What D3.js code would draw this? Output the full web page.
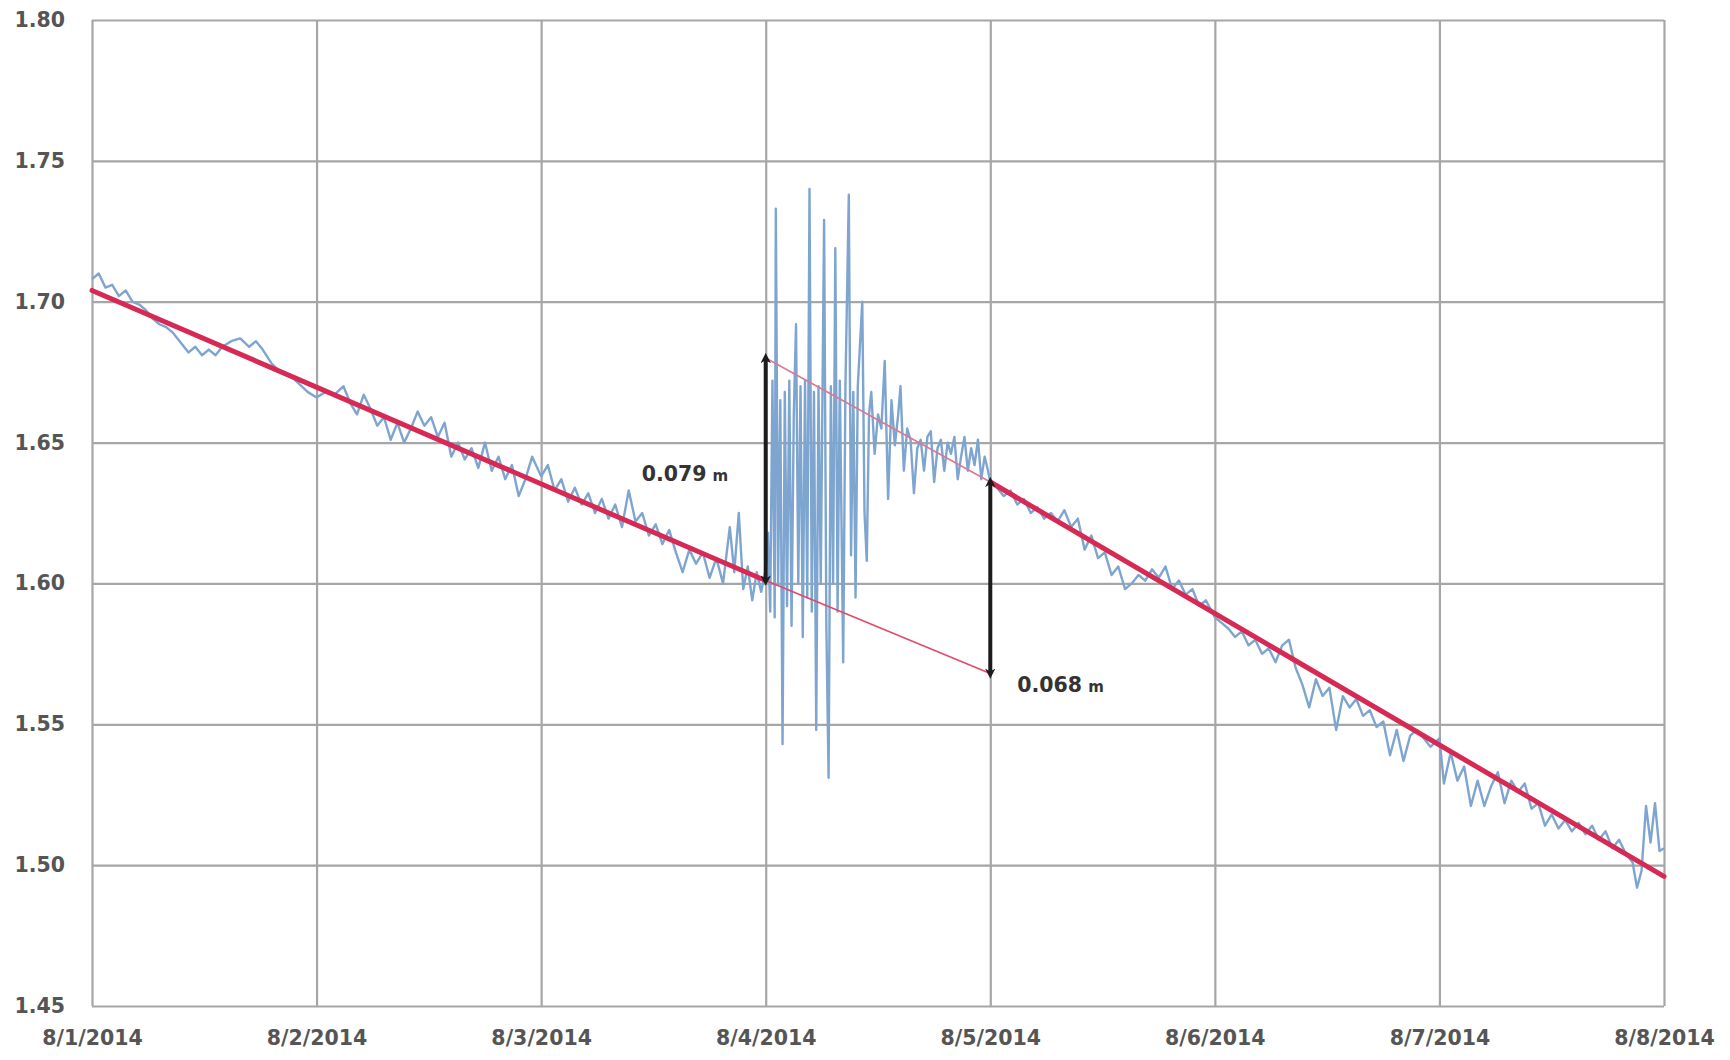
<!DOCTYPE html>
<html>
<head>
<meta charset="utf-8">
<script src="https://cdn.jsdelivr.net/npm/d3@7"></script>
<style>
  html, body { margin: 0; padding: 0; background: #fff; }
  svg { display: block; }
  text { font-family: "DejaVu Sans", Verdana, sans-serif; }
</style>
</head>
<body>
<svg id="chart" width="1730" height="1060"></svg>
<script>
// ---------- data ----------
const xTickLabels = ["8/1/2014","8/2/2014","8/3/2014","8/4/2014","8/5/2014","8/6/2014","8/7/2014","8/8/2014"];
const yTicks = [1.45, 1.50, 1.55, 1.60, 1.65, 1.70, 1.75, 1.80];

// observed water level: days since 8/1/2014 00:00, level (m)
const obsDays = [
  0.00,0.03,0.06,0.09,0.12,0.15,0.18,0.21,0.24,0.27,0.30,0.33,0.36,0.40,0.43,0.46,0.49,0.52,0.55,0.58,
  0.62,0.66,0.70,0.73,0.76,0.80,0.84,0.88,0.92,0.96,1.00,
  1.04,1.08,1.12,1.15,1.18,1.21,1.24,1.27,1.30,1.33,1.36,1.39,1.42,1.45,1.48,1.51,1.54,1.57,1.60,1.63,
  1.66,1.69,1.72,1.75,1.78,1.81,1.84,1.87,1.90,1.93,1.96,2.00,
  2.03,2.06,2.09,2.12,2.15,2.18,2.21,2.24,2.27,2.30,2.33,2.36,2.39,2.42,2.45,2.48,2.51,2.54,2.57,2.60,
  2.63,2.66,2.69,2.72,2.75,2.78,2.81,2.84,2.86,2.88,2.90,2.92,2.94,2.96,2.98,3.00,
  3.01,3.02,3.03,3.04,3.045,3.055,3.065,3.075,3.085,3.095,3.105,3.115,3.125,3.135,3.145,3.155,3.165,
  3.175,3.185,3.195,3.205,3.215,3.225,3.235,3.245,3.26,3.27,3.28,3.29,3.30,3.31,3.32,3.33,3.345,3.355,
  3.37,3.38,3.39,3.40,3.41,3.43,3.44,3.45,3.46,3.47,3.485,3.50,3.515,3.53,3.545,3.56,3.575,3.59,3.60,
  3.615,3.63,3.645,3.66,3.675,3.69,3.705,3.72,3.735,3.75,3.765,3.78,3.795,3.81,3.825,3.84,3.855,3.87,
  3.885,3.90,3.915,3.93,3.945,3.96,3.975,3.99,4.00,
  4.03,4.06,4.09,4.12,4.15,4.18,4.21,4.24,4.27,4.30,4.33,4.36,4.39,4.42,4.45,4.48,4.51,4.54,4.57,4.60,
  4.63,4.66,4.69,4.72,4.75,4.78,4.81,4.84,4.87,4.90,4.93,4.96,5.00,
  5.03,5.06,5.09,5.12,5.15,5.18,5.21,5.24,5.27,5.30,5.33,5.36,5.39,5.42,5.45,5.48,5.51,5.54,5.57,5.60,
  5.63,5.66,5.69,5.72,5.75,5.78,5.81,5.84,5.87,5.90,5.93,5.96,6.00,
  6.02,6.05,6.08,6.11,6.14,6.17,6.20,6.23,6.26,6.29,6.32,6.35,6.38,6.41,6.44,6.47,6.50,6.53,6.56,6.59,
  6.62,6.65,6.68,6.71,6.74,6.77,6.80,6.83,6.86,6.88,6.90,6.92,6.94,6.96,6.98,7.00
];
const obsLevels = [
  1.708,1.710,1.705,1.706,1.702,1.704,1.700,1.699,1.697,1.694,1.692,1.691,1.689,1.685,1.682,1.684,1.681,1.683,1.681,1.684,
  1.686,1.687,1.684,1.686,1.683,1.678,1.675,1.674,1.671,1.668,1.666,
  1.668,1.667,1.670,1.664,1.660,1.667,1.662,1.656,1.659,1.651,1.657,1.650,1.655,1.661,1.656,1.659,1.652,1.657,1.645,1.650,
  1.644,1.648,1.641,1.650,1.640,1.645,1.637,1.642,1.631,1.637,1.645,1.638,
  1.642,1.633,1.637,1.629,1.634,1.628,1.632,1.625,1.630,1.623,1.628,1.620,1.633,1.622,1.625,1.617,1.621,1.614,1.619,1.611,
  1.604,1.612,1.607,1.611,1.602,1.609,1.600,1.620,1.604,1.625,1.598,1.606,1.594,1.604,1.597,1.605,
  1.618,1.590,1.672,1.588,1.733,1.600,1.665,1.543,1.668,1.592,1.672,1.585,1.660,1.692,1.600,1.670,1.581,
  1.672,1.595,1.740,1.590,1.668,1.548,1.670,1.600,1.729,1.585,1.531,1.670,1.600,1.719,1.590,1.672,1.572,1.670,
  1.738,1.610,1.668,1.595,1.670,1.700,1.625,1.608,1.660,1.668,1.646,1.660,1.655,1.679,1.630,1.665,1.649,1.660,1.670,
  1.640,1.655,1.651,1.632,1.648,1.651,1.640,1.652,1.654,1.636,1.648,1.651,1.640,1.650,1.646,1.652,1.637,1.645,
  1.652,1.640,1.648,1.642,1.651,1.637,1.645,1.640,1.636,
  1.634,1.631,1.633,1.628,1.630,1.625,1.627,1.623,1.625,1.622,1.626,1.620,1.623,1.612,1.617,1.609,1.611,1.603,1.606,1.598,
  1.600,1.603,1.601,1.605,1.602,1.606,1.598,1.601,1.596,1.598,1.592,1.594,1.588,
  1.586,1.584,1.581,1.583,1.578,1.580,1.575,1.577,1.572,1.578,1.580,1.570,1.564,1.556,1.566,1.560,1.563,1.548,1.560,1.556,
  1.559,1.553,1.555,1.549,1.551,1.539,1.548,1.537,1.546,1.548,1.545,1.542,1.545,
  1.529,1.540,1.530,1.535,1.521,1.530,1.521,1.528,1.533,1.522,1.530,1.526,1.529,1.520,1.522,1.514,1.518,1.513,1.516,1.512,
  1.515,1.511,1.514,1.509,1.512,1.506,1.509,1.504,1.501,1.492,1.498,1.521,1.508,1.522,1.505,1.506
];

// fitted trend segments (days, level)
const trendBeforeDays = [0, 3];
const trendBeforeLevels = [1.704, 1.601];
const trendBeforeExtDays = [3, 4];
const trendBeforeExtLevels = [1.601, 1.568];
const trendAfterBackDays = [3, 4];
const trendAfterBackLevels = [1.680, 1.636];
const trendAfterDays = [4, 7];
const trendAfterLevels = [1.636, 1.496];

// offsets (annotation arrows)
const offsetDays = [3, 4];
const offsetLow = [1.601, 1.568];
const offsetHigh = [1.680, 1.636];
const offsetLabels = ["0.079", "0.068"];
const offsetLabelLevels = [1.639, 1.564];

// ---------- layout ----------
const mLeft = 92, mRight = 1664, mTop = 20, mBottom = 1006;
const svg = d3.select("#chart");
const start = new Date(2014, 7, 1);
const toDate = d => new Date(start.getTime() + d * 86400000);

const x = d3.scaleTime().domain([toDate(0), toDate(7)]).range([mLeft, mRight]);
const y = d3.scaleLinear().domain([1.45, 1.80]).range([mBottom, mTop]);
const xTickDates = xTickLabels.map((_, i) => toDate(i));

// gridlines
const gridColor = "#a6a6a6";
const gx = svg.append("g").attr("transform", `translate(0,${mBottom})`)
  .call(d3.axisBottom(x).tickValues(xTickDates).tickSize(-(mBottom - mTop)).tickFormat(""));
const gy = svg.append("g").attr("transform", `translate(${mLeft},0)`)
  .call(d3.axisLeft(y).tickValues(yTicks).tickSize(-(mRight - mLeft)).tickFormat(""));
[gx, gy].forEach(g => {
  g.select(".domain").remove();
  g.selectAll(".tick line").attr("stroke", gridColor).attr("stroke-width", 2.2);
});

// axis labels
const ax = svg.append("g").attr("transform", `translate(0,${mBottom})`)
  .call(d3.axisBottom(x).tickValues(xTickDates).tickSize(0).tickPadding(24)
    .tickFormat((d, i) => xTickLabels[i]));
const ay = svg.append("g").attr("transform", `translate(${mLeft},0)`)
  .call(d3.axisLeft(y).tickValues(yTicks).tickSize(0).tickPadding(27)
    .tickFormat(d3.format(".2f")));
[ax, ay].forEach(g => {
  g.select(".domain").remove();
  g.selectAll("text").attr("fill", "#555").attr("font-size", 20.5).attr("font-weight", "bold")
    .attr("font-family", "'DejaVu Sans', Verdana, sans-serif");
});

// observed series
const obs = obsDays.map((d, i) => ({ t: toDate(d), v: obsLevels[i] }));
const line = d3.line().x(p => x(p.t)).y(p => y(p.v));
svg.append("path").datum(obs).attr("d", line)
  .attr("fill", "none").attr("stroke", "#7ea5d0").attr("stroke-width", 2.4)
  .attr("stroke-linejoin", "round");

// trend lines
const seg = (ds, vs) => ds.map((d, i) => ({ t: toDate(d), v: vs[i] }));
const drawTrend = (ds, vs, w, c) =>
  svg.append("path").datum(seg(ds, vs)).attr("d", line)
    .attr("fill", "none").attr("stroke", c).attr("stroke-width", w).attr("stroke-linecap", "round");
drawTrend(trendBeforeDays, trendBeforeLevels, 5, "#d62a55");
drawTrend(trendAfterDays, trendAfterLevels, 5, "#d62a55");
drawTrend(trendBeforeExtDays, trendBeforeExtLevels, 1.6, "#e04a68");
drawTrend(trendAfterBackDays, trendAfterBackLevels, 1.6, "#d77a92");

// annotation arrows
const defs = svg.append("defs");
defs.append("marker").attr("id", "tip").attr("viewBox", "0 0 10 10")
  .attr("refX", 5).attr("refY", 5).attr("markerWidth", 2.6).attr("markerHeight", 2.6)
  .attr("orient", "auto-start-reverse").attr("markerUnits", "strokeWidth")
  .append("path").attr("d", "M0,0 L10,5 L0,10 L3,5 Z").attr("fill", "#1c1c1c");

offsetDays.forEach((d, i) => {
  svg.append("line")
    .attr("x1", x(toDate(d))).attr("x2", x(toDate(d)))
    .attr("y1", y(offsetLow[i])).attr("y2", y(offsetHigh[i]))
    .attr("stroke", "#1c1c1c").attr("stroke-width", 4)
    .attr("marker-start", "url(#tip)").attr("marker-end", "url(#tip)");
});

// labels
const labelX = [x(toDate(offsetDays[0])) - 124, x(toDate(offsetDays[1])) + 27];
offsetLabels.forEach((t, i) => {
  const lab = svg.append("text").attr("x", labelX[i]).attr("y", y(offsetLabelLevels[i]) + 7)
    .attr("fill", "#333").attr("font-weight", "bold").attr("font-size", 20.5);
  lab.append("tspan").text(t);
  lab.append("tspan").attr("font-size", 15).attr("dx", 6).text("m");
});
</script>
</body>
</html>
